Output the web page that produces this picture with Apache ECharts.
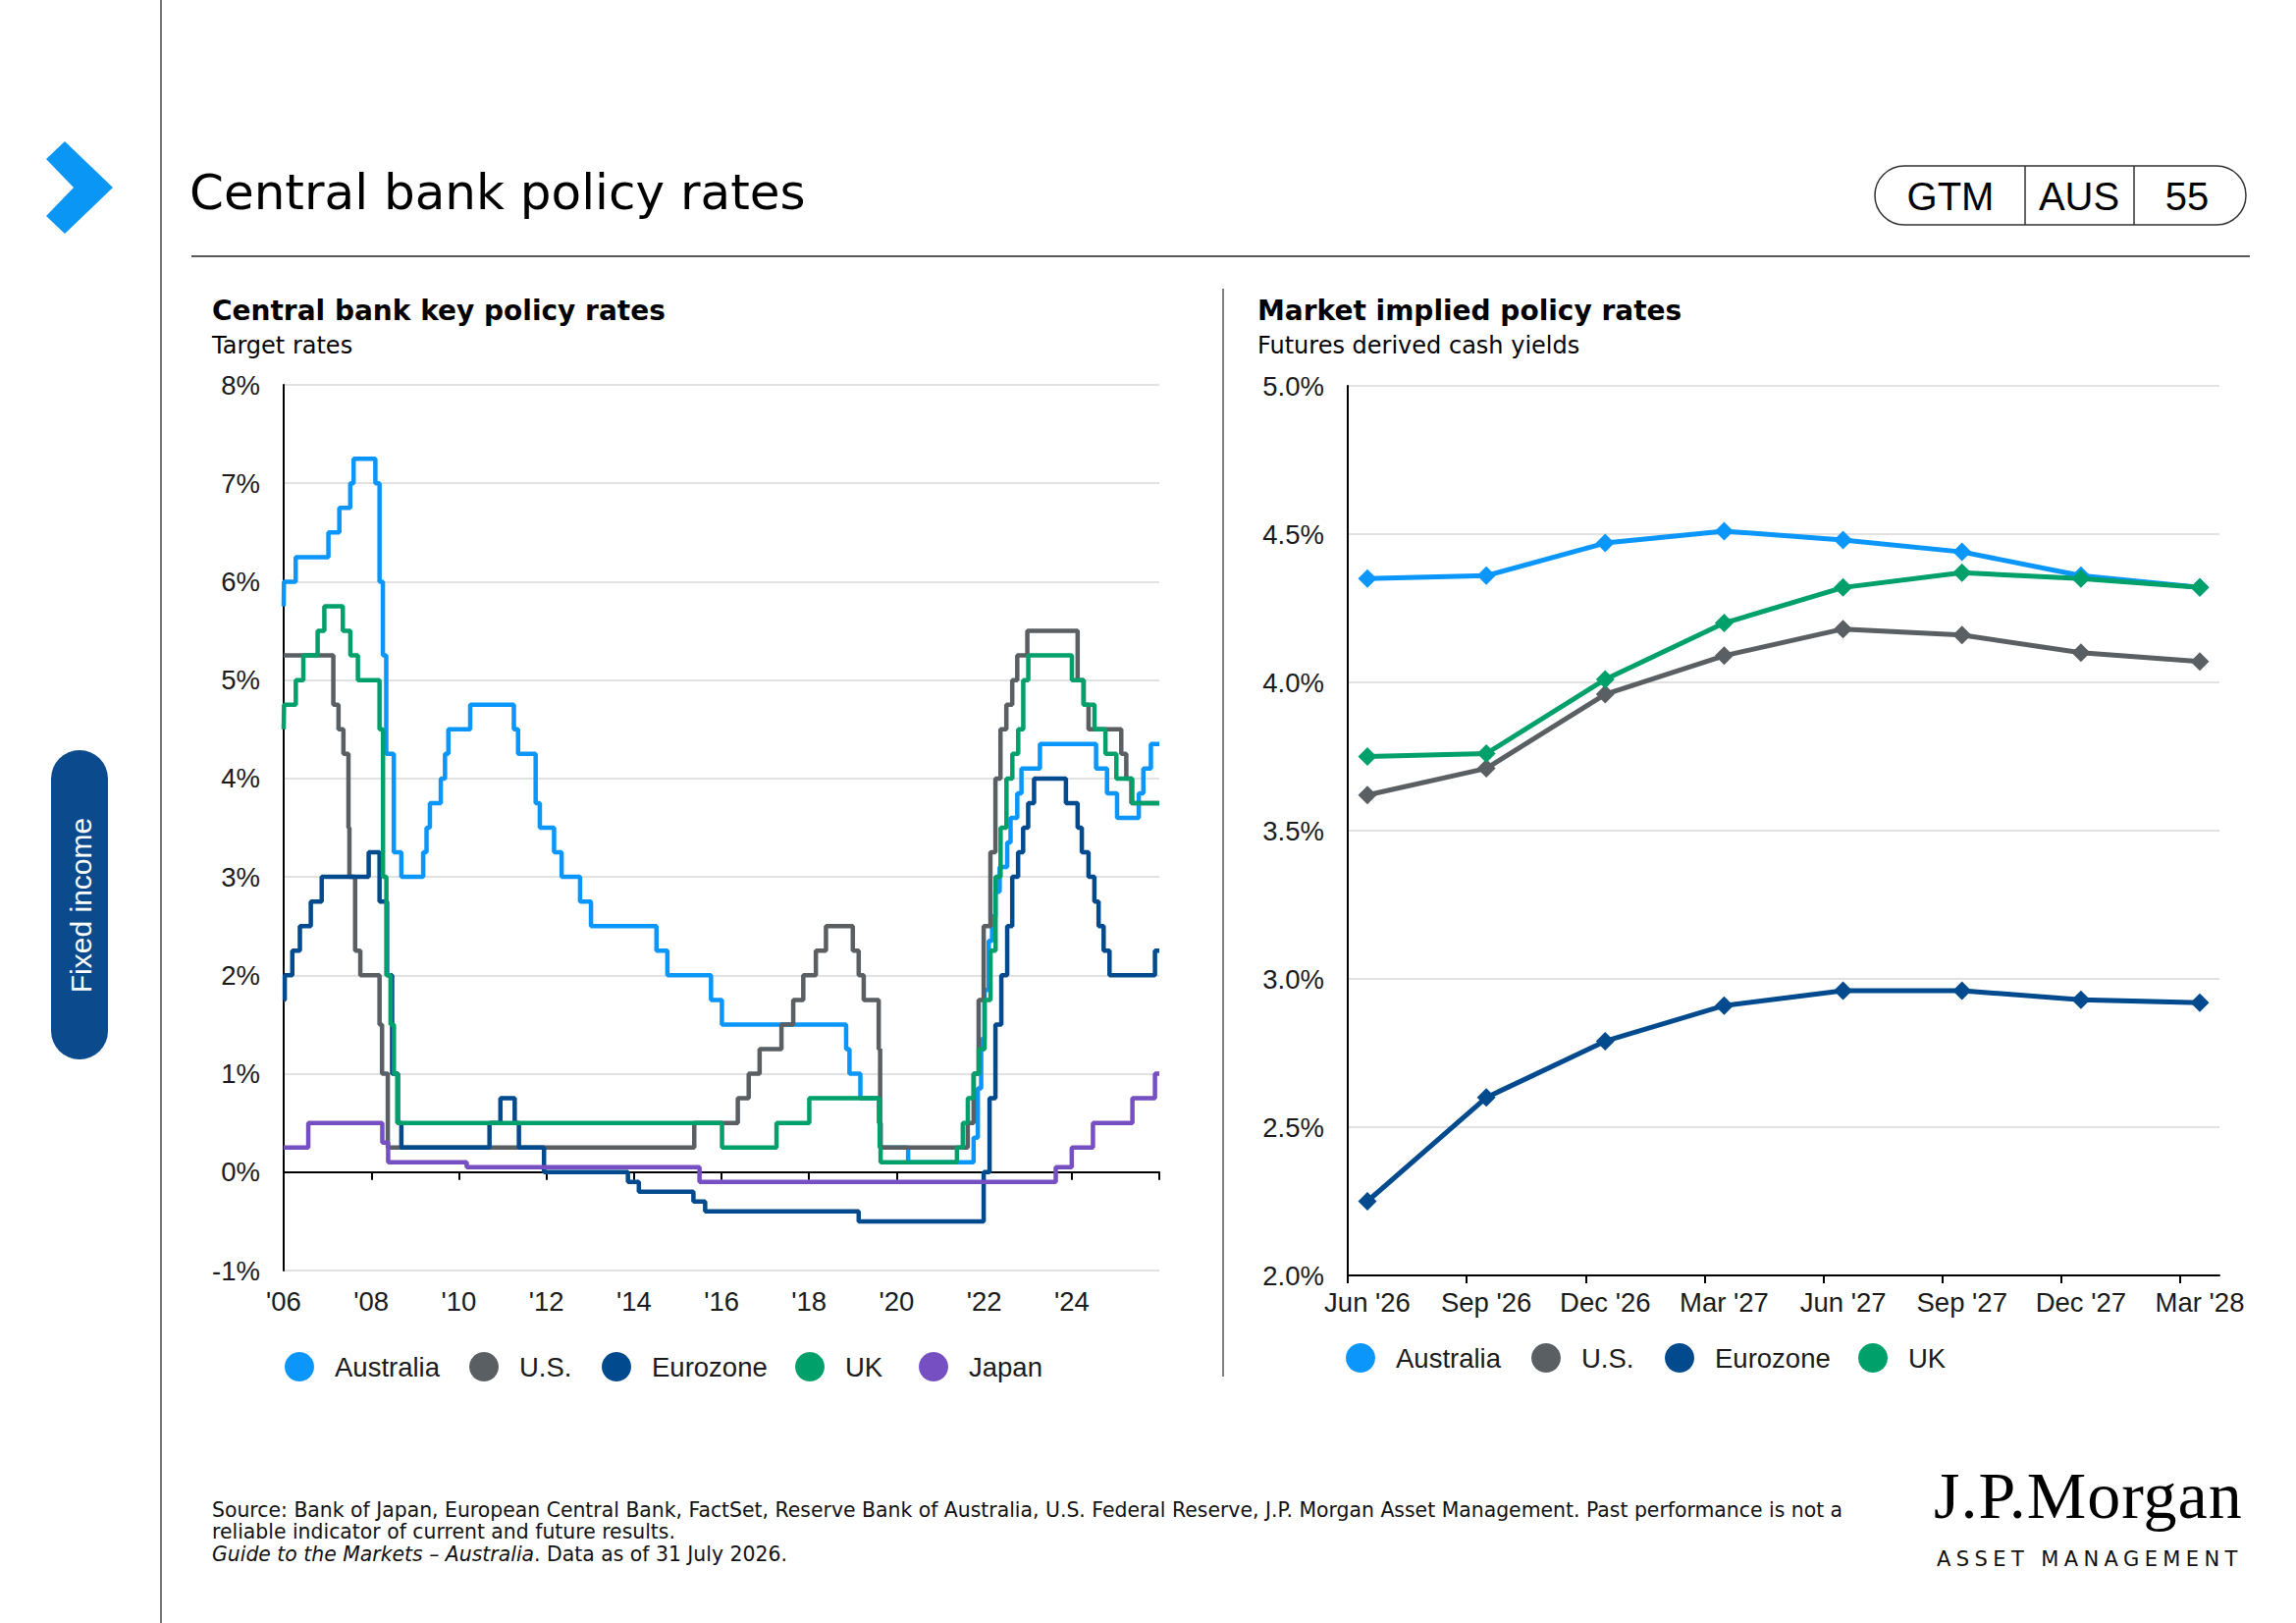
<!DOCTYPE html>
<html>
<head>
<meta charset="utf-8">
<title>Central bank policy rates</title>
<script src="https://cdn.jsdelivr.net/npm/echarts@6/dist/echarts.min.js"></script>
<style>
  html, body { margin: 0; padding: 0; background: #fff; }
  #page { position: relative; width: 2339px; height: 1653px; overflow: hidden; }
  #main { position: absolute; left: 0; top: 0; width: 2339px; height: 1653px; }
  #logo1 { position: absolute; left: 1970px; top: 1489px; font: 68px/68px "Liberation Serif", "DejaVu Serif", serif; color: #000; white-space: nowrap; letter-spacing: 1px; }
  #logo2 { position: absolute; left: 1973px; top: 1578px; font: 21px/21px "DejaVu Sans", "Liberation Sans", sans-serif; color: #111; white-space: nowrap; letter-spacing: 5.4px; }
</style>
</head>
<body>
<div id="page">
  <div id="main"></div>
  <div id="logo1">J.P.Morgan</div>
  <div id="logo2">ASSET MANAGEMENT</div>
</div>
<script type="text/javascript">
    // policy rate changes: [date of change, new rate %]; first entry is the level at the start of the window
    var australiaRate = [
        ['2006-07-31', 5.75], ['2006-08-02', 6.00], ['2006-11-08', 6.25], ['2007-08-08', 6.50],
        ['2007-11-07', 6.75], ['2008-02-06', 7.00], ['2008-03-05', 7.25], ['2008-09-03', 7.00],
        ['2008-10-08', 6.00], ['2008-11-05', 5.25], ['2008-12-03', 4.25], ['2009-02-04', 3.25],
        ['2009-04-08', 3.00], ['2009-10-07', 3.25], ['2009-11-04', 3.50], ['2009-12-02', 3.75],
        ['2010-03-03', 4.00], ['2010-04-07', 4.25], ['2010-05-05', 4.50], ['2010-11-03', 4.75],
        ['2011-11-02', 4.50], ['2011-12-07', 4.25], ['2012-05-02', 3.75], ['2012-06-06', 3.50],
        ['2012-10-03', 3.25], ['2012-12-05', 3.00], ['2013-05-08', 2.75], ['2013-08-07', 2.50],
        ['2015-02-04', 2.25], ['2015-05-06', 2.00], ['2016-05-04', 1.75], ['2016-08-03', 1.50],
        ['2019-06-05', 1.25], ['2019-07-03', 1.00], ['2019-10-02', 0.75], ['2020-03-04', 0.50],
        ['2020-03-20', 0.25], ['2020-11-04', 0.10], ['2022-05-04', 0.35], ['2022-06-08', 0.85],
        ['2022-07-06', 1.35], ['2022-08-03', 1.85], ['2022-09-07', 2.35], ['2022-10-05', 2.60],
        ['2022-11-02', 2.85], ['2022-12-07', 3.10], ['2023-02-08', 3.35], ['2023-03-08', 3.60],
        ['2023-05-03', 3.85], ['2023-06-07', 4.10], ['2023-11-08', 4.35], ['2025-02-19', 4.10],
        ['2025-05-21', 3.85], ['2025-08-13', 3.60], ['2026-02-10', 3.85], ['2026-03-20', 4.10],
        ['2026-05-22', 4.35]
    ];
    var usRate = [
        ['2006-07-31', 5.25], ['2007-09-18', 4.75], ['2007-10-31', 4.50], ['2007-12-11', 4.25],
        ['2008-01-22', 3.50], ['2008-01-30', 3.00], ['2008-03-18', 2.25], ['2008-04-30', 2.00],
        ['2008-10-08', 1.50], ['2008-10-29', 1.00], ['2008-12-16', 0.25], ['2015-12-16', 0.50],
        ['2016-12-14', 0.75], ['2017-03-15', 1.00], ['2017-06-14', 1.25], ['2017-12-13', 1.50],
        ['2018-03-21', 1.75], ['2018-06-13', 2.00], ['2018-09-26', 2.25], ['2018-12-19', 2.50],
        ['2019-07-31', 2.25], ['2019-09-18', 2.00], ['2019-10-30', 1.75], ['2020-03-03', 1.25],
        ['2020-03-15', 0.25], ['2022-03-16', 0.50], ['2022-05-04', 1.00], ['2022-06-15', 1.75],
        ['2022-07-27', 2.50], ['2022-09-21', 3.25], ['2022-11-02', 4.00], ['2022-12-14', 4.50],
        ['2023-02-01', 4.75], ['2023-03-22', 5.00], ['2023-05-03', 5.25], ['2023-07-26', 5.50],
        ['2024-09-18', 5.00], ['2024-11-07', 4.75], ['2024-12-18', 4.50], ['2025-09-17', 4.25],
        ['2025-10-29', 4.00], ['2025-12-10', 3.75]
    ];
    var eurozoneRate = [
        ['2006-07-31', 1.75], ['2006-08-09', 2.00], ['2006-10-11', 2.25], ['2006-12-13', 2.50],
        ['2007-03-14', 2.75], ['2007-06-13', 3.00], ['2008-07-09', 3.25], ['2008-10-08', 2.75],
        ['2008-12-10', 2.00], ['2009-01-21', 1.00], ['2009-03-11', 0.50], ['2009-04-08', 0.25],
        ['2011-04-13', 0.50], ['2011-07-13', 0.75], ['2011-11-09', 0.50], ['2011-12-14', 0.25],
        ['2012-07-11', 0.00], ['2014-06-11', -0.10], ['2014-09-10', -0.20], ['2015-12-09', -0.30],
        ['2016-03-16', -0.40], ['2019-09-18', -0.50], ['2022-07-27', 0.00], ['2022-09-14', 0.75],
        ['2022-11-02', 1.50], ['2022-12-21', 2.00], ['2023-02-08', 2.50], ['2023-03-22', 3.00],
        ['2023-05-10', 3.25], ['2023-06-21', 3.50], ['2023-08-02', 3.75], ['2023-09-20', 4.00],
        ['2024-06-12', 3.75], ['2024-09-18', 3.50], ['2024-10-23', 3.25], ['2024-12-18', 3.00],
        ['2025-02-05', 2.75], ['2025-03-12', 2.50], ['2025-04-23', 2.25], ['2025-06-11', 2.00],
        ['2026-06-25', 2.25]
    ];
    var ukRate = [
        ['2006-07-31', 4.50], ['2006-08-03', 4.75], ['2006-11-09', 5.00], ['2007-01-11', 5.25],
        ['2007-05-10', 5.50], ['2007-07-05', 5.75], ['2007-12-06', 5.50], ['2008-02-07', 5.25],
        ['2008-04-10', 5.00], ['2008-10-08', 4.50], ['2008-11-06', 3.00], ['2008-12-04', 2.00],
        ['2009-01-08', 1.50], ['2009-02-05', 1.00], ['2009-03-05', 0.50], ['2016-08-04', 0.25],
        ['2017-11-02', 0.50], ['2018-08-02', 0.75], ['2020-03-11', 0.25], ['2020-03-19', 0.10],
        ['2021-12-16', 0.25], ['2022-02-03', 0.50], ['2022-03-17', 0.75], ['2022-05-05', 1.00],
        ['2022-06-16', 1.25], ['2022-08-04', 1.75], ['2022-09-22', 2.25], ['2022-11-03', 3.00],
        ['2022-12-15', 3.50], ['2023-02-02', 4.00], ['2023-03-23', 4.25], ['2023-05-11', 4.50],
        ['2023-06-22', 5.00], ['2023-08-03', 5.25], ['2024-08-01', 5.00], ['2024-11-07', 4.75],
        ['2025-02-06', 4.50], ['2025-05-08', 4.25], ['2025-08-07', 4.00], ['2025-12-18', 3.75]
    ];
    var japanRate = [
        ['2006-07-31', 0.25], ['2007-02-21', 0.50], ['2008-10-31', 0.30], ['2008-12-19', 0.10],
        ['2010-10-05', 0.05], ['2016-01-29', -0.10], ['2024-03-19', 0.05], ['2024-07-31', 0.25],
        ['2025-01-24', 0.50], ['2025-12-19', 0.75], ['2026-06-25', 1.00]
    ];
    var historyStart = '2006-07-31';
    var historyEnd = '2026-07-31';
    var tickYears = [2006, 2008, 2010, 2012, 2014, 2016, 2018, 2020, 2022, 2024, 2026];

    // market implied policy rates
    var futureLabels = ["Jun '26", "Sep '26", "Dec '26", "Mar '27", "Jun '27", "Sep '27", "Dec '27", "Mar '28"];
    var australiaImplied = [4.35, 4.36, 4.47, 4.51, 4.48, 4.44, 4.36, 4.32];
    var usImplied = [3.62, 3.71, 3.96, 4.09, 4.18, 4.16, 4.10, 4.07];
    var eurozoneImplied = [2.25, 2.60, 2.79, 2.91, 2.96, 2.96, 2.93, 2.92];
    var ukImplied = [3.75, 3.76, 4.01, 4.20, 4.32, 4.37, 4.35, 4.32];

    var histNames = ['Australia', 'U.S.', 'Eurozone', 'UK', 'Japan'];
    var impliedNames = ['Australia', 'U.S.', 'Eurozone', 'UK'];

    var colors = {
        'Australia': '#0A96FA',
        'U.S.': '#595F63',
        'Eurozone': '#004A8D',
        'UK': '#00A06A',
        'Japan': '#7650C2'
    };
    var FONT = '"Liberation Sans", Arial, sans-serif';
    var PAGE_FONT = '"DejaVu Sans", "Liberation Sans", sans-serif';

    // date string -> decimal year
    function yr(s) {
        var p = s.split('-');
        var y = +p[0];
        var a = Date.UTC(y, 0, 1), b = Date.UTC(y + 1, 0, 1);
        return y + (Date.UTC(y, +p[1] - 1, +p[2]) - a) / (b - a);
    }
    var xMin = yr(historyStart), xMax = yr(historyEnd);
    var tickPos = tickYears.map(function (y) { return yr(y + '-07-31'); });

    function stepData(list) {
        var d = list.map(function (p) { return [yr(p[0]), p[1]]; });
        d.push([xMax, list[list.length - 1][1]]);
        return d;
    }

    var ptOffset = 0.165; // contract dates fall mid-month inside each quarter
    function impliedData(arr) {
        return arr.map(function (v, i) { return [i + ptOffset, v]; });
    }

    var myChart = echarts.init(document.getElementById('main'), null, { renderer: 'svg' });

    var axisText = { color: '#1a1a1a', fontSize: 27.5, fontFamily: FONT };
    var gridLine = { show: true, lineStyle: { color: '#d9d9d9', width: 1.5 } };

    function histSeries(name, list) {
        return {
            name: name, type: 'line', xAxisIndex: 0, yAxisIndex: 0,
            step: 'end', symbol: 'none',
            lineStyle: { width: 4.5, color: colors[name] },
            itemStyle: { color: colors[name] },
            data: stepData(list)
        };
    }
    function impliedSeries(name, arr) {
        return {
            name: name, type: 'line', xAxisIndex: 2, yAxisIndex: 1,
            symbol: 'diamond', symbolSize: 19,
            lineStyle: { width: 5, color: colors[name] },
            itemStyle: { color: colors[name] },
            data: impliedData(arr)
        };
    }

    // one legend entry per item so each sits where the reference puts it
    function legendItem(name, left, top) {
        return {
            left: left, top: top, padding: 0,
            itemWidth: 30, itemHeight: 30, icon: 'circle', selectedMode: false,
            textStyle: { fontSize: 27.5, color: '#1a1a1a', fontFamily: FONT, padding: [0, 0, 0, 16] },
            data: [name]
        };
    }
    var histLegendLeft = [290, 478, 613, 810, 936];
    var impliedLegendLeft = [1371, 1560, 1696, 1893];
    var legends = histNames.map(function (n, i) { return legendItem(n, histLegendLeft[i], 1377); })
        .concat(impliedNames.map(function (n, i) { return legendItem(n, impliedLegendLeft[i], 1368); }));

    function txt(x, y, text, size, opt) {
        opt = opt || {};
        return {
            type: 'text', x: x, y: y, rotation: opt.rotation || 0,
            style: {
                text: text, fill: opt.color || '#000',
                fontSize: size, fontFamily: opt.family || PAGE_FONT, fontWeight: opt.weight || 'normal',
                fontStyle: opt.style || 'normal',
                align: opt.align || 'left', verticalAlign: 'middle',
                textAlign: opt.align || 'left', textVerticalAlign: 'middle',
                rich: opt.rich
            }
        };
    }
    function ln(x1, y1, x2, y2, color, w) {
        return { type: 'line', shape: { x1: x1, y1: y1, x2: x2, y2: y2 }, style: { stroke: color, lineWidth: w } };
    }

    var option = {
        animation: false,
        backgroundColor: '#fff',
        textStyle: { fontFamily: FONT },
        grid: [
            { left: 289, top: 392, width: 892, height: 902 },
            { left: 1373, top: 393, width: 888, height: 906 }
        ],
        legend: legends,
        xAxis: [
            {
                // labels along the bottom
                type: 'value', gridIndex: 0, min: xMin, max: xMax, position: 'bottom',
                axisLine: { show: false, onZero: false },
                axisTick: { show: false },
                splitLine: { show: false },
                axisLabel: Object.assign({
                    margin: 17,
                    customValues: tickPos.slice(0, tickPos.length - 1),
                    formatter: function (v) { return "'" + String(Math.floor(v + 0.01)).slice(2); }
                }, axisText)
            },
            {
                // black zero line with ticks
                type: 'value', gridIndex: 0, min: xMin, max: xMax, position: 'bottom',
                axisLine: { show: true, onZero: true, onZeroAxisIndex: 0, lineStyle: { color: '#000', width: 2 } },
                axisTick: { show: true, length: 8, customValues: tickPos, lineStyle: { color: '#000', width: 2 } },
                axisLabel: { show: false },
                splitLine: { show: false }
            },
            {
                type: 'value', gridIndex: 1, min: 0, max: 7.33, position: 'bottom',
                axisLine: { show: true, onZero: false, lineStyle: { color: '#000', width: 2 } },
                axisTick: { show: true, length: 8, customValues: [0, 1, 2, 3, 4, 5, 6, 7], lineStyle: { color: '#000', width: 2 } },
                splitLine: { show: false },
                axisLabel: Object.assign({
                    margin: 13,
                    customValues: futureLabels.map(function (l, i) { return i + ptOffset; }),
                    formatter: function (v) { return futureLabels[Math.round(v - ptOffset)]; }
                }, axisText)
            }
        ],
        yAxis: [
            {
                type: 'value', gridIndex: 0, min: -1, max: 8, interval: 1,
                axisLine: { show: true, onZero: false, lineStyle: { color: '#000', width: 2 } },
                axisTick: { show: false },
                splitLine: gridLine,
                axisLabel: Object.assign({ margin: 24, formatter: function (v) { return v + '%'; } }, axisText)
            },
            {
                type: 'value', gridIndex: 1, min: 2, max: 5, interval: 0.5,
                axisLine: { show: true, onZero: false, lineStyle: { color: '#000', width: 2 } },
                axisTick: { show: false },
                splitLine: gridLine,
                axisLabel: Object.assign({ margin: 24, formatter: function (v) { return v.toFixed(1) + '%'; } }, axisText)
            }
        ],
        series: [
            histSeries('Australia', australiaRate),
            histSeries('U.S.', usRate),
            histSeries('Eurozone', eurozoneRate),
            histSeries('UK', ukRate),
            histSeries('Japan', japanRate),
            impliedSeries('Australia', australiaImplied),
            impliedSeries('U.S.', usImplied),
            impliedSeries('Eurozone', eurozoneImplied),
            impliedSeries('UK', ukImplied)
        ],
        graphic: [
            ln(164, 0, 164, 1653, '#444', 1.5),
            {
                type: 'polygon',
                shape: { points: [[66, 144], [115, 191], [66, 238], [47, 220], [75, 191], [47, 162]] },
                style: { fill: '#0A96F5' }
            },
            txt(193, 196, 'Central bank policy rates', 50),
            ln(195, 261, 2292, 261, '#222', 1.5),
            {
                type: 'rect', shape: { x: 1910, y: 169, width: 378, height: 60, r: 30 },
                style: { fill: 'none', stroke: '#333', lineWidth: 1.5 }
            },
            ln(2063, 169, 2063, 229, '#333', 1.5),
            ln(2174, 169, 2174, 229, '#333', 1.5),
            txt(1987, 200, 'GTM', 40, { align: 'center', family: FONT }),
            txt(2118, 200, 'AUS', 40, { align: 'center', family: FONT }),
            txt(2228, 200, '55', 40, { align: 'center', family: FONT }),

            txt(216, 316, 'Central bank key policy rates', 28, { weight: 'bold' }),
            txt(216, 352, 'Target rates', 24),
            txt(1281, 316, 'Market implied policy rates', 28, { weight: 'bold' }),
            txt(1281, 352, 'Futures derived cash yields', 24),
            ln(1246, 294, 1246, 1402, '#555', 1.5),

            {
                type: 'rect', shape: { x: 52, y: 764, width: 58, height: 315, r: 29 },
                style: { fill: '#0B4A8C' }
            },
            txt(82, 922, 'Fixed income', 30, { align: 'center', color: '#fff', rotation: Math.PI / 2, family: FONT }),

            txt(216, 1538, 'Source: Bank of Japan, European Central Bank, FactSet, Reserve Bank of Australia, U.S. Federal Reserve, J.P. Morgan Asset Management. Past performance is not a', 20.4, { color: '#111' }),
            txt(216, 1560, 'reliable indicator of current and future results.', 20.4, { color: '#111' }),
            txt(216, 1583, '{i|Guide to the Markets \u2013 Australia}. Data as of 31 July 2026.', 20.4, {
                color: '#111',
                rich: { i: { fontStyle: 'italic', fontSize: 20.4, fontFamily: PAGE_FONT, fill: '#111', color: '#111' } }
            })
        ]
    };

    myChart.setOption(option);
</script>
</body>
</html>
